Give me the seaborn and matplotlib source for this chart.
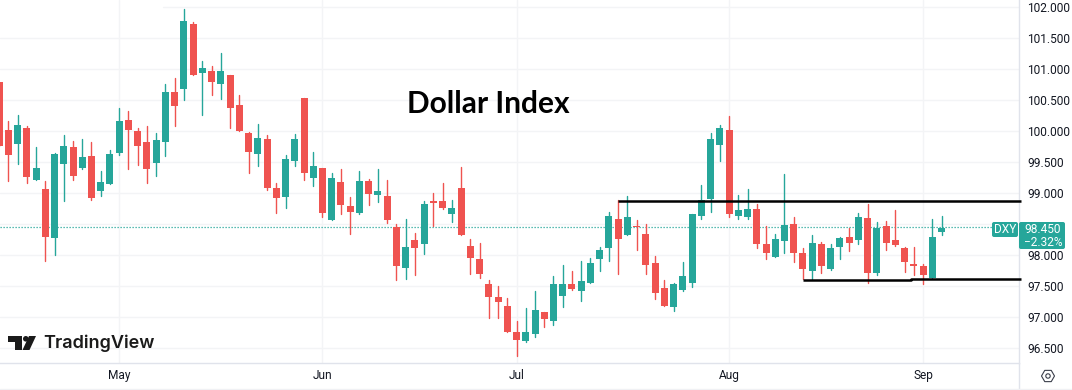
import matplotlib
matplotlib.use("Agg")
import matplotlib.pyplot as plt
from matplotlib.patches import Polygon, Circle, RegularPolygon, FancyBboxPatch
from matplotlib.lines import Line2D
from matplotlib.transforms import IdentityTransform
import numpy as np
import pandas as pd
import seaborn as sns

# daily candles
open_px = [100.79, 100.02, 99.80, 100.06, 99.22, 99.07, 98.28, 99.47, 99.75, 99.41,
           99.60, 99.03, 99.15, 99.65, 100.18, 100.01, 99.83, 99.49, 99.83, 100.63,
           100.68, 101.73, 100.94, 100.97, 100.76, 100.91, 100.42, 99.98, 99.63, 99.88,
           99.09, 98.94, 99.52, 100.54, 99.24, 99.41, 98.57, 99.18, 98.80, 98.68,
           99.20, 98.97, 98.96, 98.46, 97.79, 98.25, 98.18, 98.87, 98.88, 98.66,
           99.09, 98.15, 97.94, 97.54, 97.33, 97.18, 96.77, 96.62, 96.73, 97.09,
           96.94, 97.34, 97.54, 97.43, 97.55, 97.94, 98.12, 98.58, 98.33, 98.48,
           98.35, 97.87, 97.47, 97.17, 97.44, 97.55, 98.63, 98.91, 99.78, 100.02,
           98.64, 98.61, 98.74, 98.18, 97.97, 98.23, 98.50, 98.04, 97.74, 98.18,
           97.78, 98.13, 98.30, 98.25, 98.60, 97.71, 98.47, 98.25, 98.12, 97.86,
           97.83, 97.63, 98.38]
high_px = [100.79, 100.16, 100.27, 100.09, 99.75, 99.20, 99.65, 99.94, 99.84, 99.88,
           99.83, 99.36, 99.70, 100.37, 100.33, 100.05, 100.09, 99.97, 100.76, 100.86,
           101.97, 101.76, 101.13, 101.05, 101.26, 100.91, 100.59, 99.99, 100.12, 99.94,
           99.16, 99.62, 99.96, 100.54, 99.67, 99.41, 99.33, 99.39, 98.94, 99.36,
           99.23, 99.39, 99.22, 98.51, 98.59, 98.36, 98.87, 99.00, 99.16, 98.89,
           99.42, 98.27, 98.20, 97.60, 97.50, 97.31, 96.94, 97.15, 97.42, 97.09,
           97.67, 97.84, 97.74, 97.91, 97.96, 98.13, 98.70, 98.89, 98.95, 98.57,
           98.51, 97.99, 97.60, 97.55, 97.90, 98.67, 99.13, 99.98, 100.10, 100.25,
           98.97, 99.07, 98.83, 98.47, 98.34, 99.31, 98.62, 98.12, 98.33, 98.22,
           98.18, 98.29, 98.44, 98.69, 98.83, 98.54, 98.56, 98.73, 98.13, 98.13,
           97.86, 98.59, 98.63]
low_px = [99.77, 99.20, 99.47, 99.17, 99.22, 97.91, 98.01, 98.87, 99.22, 99.39,
          98.89, 98.95, 99.15, 99.62, 99.39, 99.46, 99.17, 99.28, 99.60, 100.09,
          100.50, 100.91, 100.26, 100.59, 100.52, 100.05, 100.01, 99.33, 99.44, 99.05,
          98.69, 98.76, 99.44, 99.22, 99.12, 98.61, 98.57, 98.67, 98.34, 98.67,
          98.81, 98.86, 98.52, 97.60, 97.62, 97.68, 98.02, 98.48, 98.75, 98.53,
          98.33, 97.70, 97.63, 96.99, 96.99, 96.77, 96.38, 96.60, 96.69, 96.85,
          96.88, 97.17, 97.44, 97.27, 97.55, 97.75, 97.91, 97.70, 98.33, 98.09,
          97.70, 97.30, 97.19, 97.10, 97.43, 97.49, 98.59, 98.70, 99.52, 98.61,
          98.59, 98.59, 98.12, 97.94, 97.97, 98.04, 97.89, 97.61, 97.62, 97.71,
          97.76, 97.94, 98.07, 98.18, 97.55, 97.68, 98.09, 98.15, 97.73, 97.68,
          97.53, 97.63, 98.33]
close_px = [99.77, 99.62, 100.10, 99.27, 99.41, 98.30, 99.63, 99.77, 99.28, 99.59,
            98.93, 99.18, 99.63, 100.17, 100.02, 99.76, 99.39, 99.86, 100.63, 100.41,
            101.78, 100.91, 101.02, 100.80, 100.97, 100.37, 100.01, 99.67, 99.89, 99.09,
            98.92, 99.55, 99.88, 99.32, 99.44, 98.69, 99.25, 98.81, 98.70, 99.20,
            98.99, 99.04, 98.57, 97.83, 98.13, 98.12, 98.82, 98.84, 98.76, 98.77,
            98.33, 97.96, 97.70, 97.33, 97.24, 96.77, 96.63, 96.77, 97.12, 96.97,
            97.53, 97.53, 97.46, 97.58, 97.87, 98.09, 98.63, 98.27, 98.61, 98.46,
            97.84, 97.39, 97.19, 97.53, 97.67, 98.67, 98.90, 99.88, 100.05, 98.67,
            98.73, 98.75, 98.19, 98.04, 98.26, 98.49, 98.04, 97.78, 98.20, 97.83,
            98.12, 98.28, 98.20, 98.62, 97.71, 98.44, 98.20, 98.17, 97.89, 97.83,
            97.68, 98.30, 98.44]

month_pos = [13, 35, 56, 79, 100]
month_labels = ["May", "Jun", "Jul", "Aug", "Sep"]
price_ticks = [96.5, 97.0, 97.5, 98.0, 98.5, 99.0, 99.5, 100.0, 100.5, 101.0, 101.5, 102.0]

last_price = 98.45
resistance_x = [67, 110.6]
resistance_y = [98.88, 98.88]
support_x = [87, 98.7, 98.7, 110.6]
support_y = [97.595, 97.595, 97.61, 97.61]

GREEN = "#26a69a"
RED = "#ef5350"
TEXT = "#131722"
GRID = "#f3f4f6"
BORDER = "#e0e3eb"

W, H = 1072, 390

sns.set_style("white")
plt.rcParams["font.family"] = ["Roboto", "DejaVu Sans"]

df = pd.DataFrame({"i": np.arange(len(open_px)), "o": open_px, "h": high_px,
                   "l": low_px, "c": close_px})
df["up"] = df["c"] >= df["o"]
df["top"] = df[["o", "c"]].max(axis=1)
df["bot"] = df[["o", "c"]].min(axis=1)

fig = plt.figure(figsize=(W / 100, H / 100), dpi=100, facecolor="white")
ax = fig.add_axes([0, (H - 363) / H, 1019 / W, 363 / H])

# wicks, one line per candle
wicks = df.melt(id_vars=["i", "up"], value_vars=["h", "l"], value_name="price")
wicks = wicks.sort_values(["i", "variable"])
sns.lineplot(data=wicks[wicks["up"]], x="i", y="price", units="i", estimator=None,
             color=GREEN, lw=1.0, ax=ax, zorder=3, legend=False)
sns.lineplot(data=wicks[~wicks["up"]], x="i", y="price", units="i", estimator=None,
             color=RED, lw=1.0, ax=ax, zorder=3, legend=False)

# bodies
for up, col in [(True, GREEN), (False, RED)]:
    part = df[df["up"] == up]
    sns.barplot(x=part["i"].values, y=(part["top"] - part["bot"]).values,
                bottom=part["bot"].values, native_scale=True, errorbar=None,
                color=col, saturation=1, width=0.76, linewidth=0, ax=ax, zorder=4)

ax.set_xlim(0.0974, 110.38)
ax.set_ylim(96.263, 102.118)
ax.set_xlabel("")
ax.set_ylabel("")

ax.yaxis.tick_right()
ax.set_yticks(price_ticks)
# 98.500 sits under the price tag
ax.set_yticklabels(["" if p == 98.5 else f"{p:.3f}" for p in price_ticks])
ax.set_xticks(month_pos)
ax.set_xticklabels(month_labels)
ax.tick_params(axis="both", length=0, labelsize=8.6, labelcolor=TEXT)
ax.tick_params(axis="y", pad=6)
ax.tick_params(axis="x", pad=4.5)
ax.grid(True, color=GRID, lw=1)
ax.set_axisbelow(True)
# top grid line only starts further right in the reference
ax.yaxis.get_gridlines()[-1].set_visible(False)
ax.axhline(102.0, xmin=163 / 1019, color=GRID, lw=1, zorder=0.5)
for side in ["top", "left"]:
    ax.spines[side].set_visible(False)
for side in ["right", "bottom"]:
    ax.spines[side].set_color(BORDER)
    ax.spines[side].set_linewidth(1)

# current price line
ax.axhline(last_price, color=GREEN, lw=0.9, ls=(0, (1, 1.4)), zorder=2, xmax=992 / 1019)

# drawn levels
ax.plot(resistance_x, resistance_y, color="black", lw=1.8, clip_on=False, zorder=6,
        solid_capstyle="butt")
ax.plot(support_x, support_y, color="black", lw=1.8, clip_on=False, zorder=6,
        solid_capstyle="butt")


def px(x, y):
    return x / W, 1 - y / H


fig.text(*px(488, 104), "Dollar Index", family="Lato", weight="bold", fontsize=21.5,
         color="black", ha="center", va="center")

identity = IdentityTransform()

# labels on the price scale
for x0, y0, x1, y1 in [(992, 222, 1018, 237), (1019, 222, 1065, 249)]:
    fig.add_artist(FancyBboxPatch((x0, H - y1), x1 - x0, y1 - y0,
                                  boxstyle="round,pad=0,rounding_size=2",
                                  fc=GREEN, ec="none", transform=identity, zorder=5))
for x, y, s in [(1005, 229.5, "DXY"), (1043, 229.5, "98.450"), (1043, 242, "\u22122.32%")]:
    fig.text(*px(x, y), s, color="white", fontsize=8.6, ha="center", va="center", zorder=6)

# bottom strip
fig.add_artist(Line2D([1019 / W, 1019 / W], [1 - 389 / H, 1 - 363 / H], color=BORDER, lw=1))
fig.add_artist(Line2D([0, 1], [1 - 389 / H, 1 - 389 / H], color="#f0f1f4", lw=1))

# settings icon
fig.add_artist(RegularPolygon((1048, H - 376), 6, radius=6.5, orientation=np.pi / 2, fc="none",
                              ec="#3a3e4a", lw=0.8, transform=identity))
fig.add_artist(Circle((1048, H - 376), 2.2, fc="none", ec="#3a3e4a", lw=0.8, transform=identity))

# TradingView logo
for pts in [[(8, 336), (22, 336), (22, 350), (15, 350), (15, 342), (8, 342)],
            [(36, 336), (29.5, 350), (22.5, 350), (29, 336)]]:
    fig.add_artist(Polygon([(a, H - b) for a, b in pts], fc="#1a1a1a", ec="none", transform=identity))
fig.add_artist(Circle((25.8, H - 338.8), 2.8, fc="#1a1a1a", ec="none", transform=identity))
fig.text(*px(43, 343.5), "TradingView", family="Inter", weight="semibold", fontsize=13,
         color="#1a1a1a", ha="left", va="center")

fig.savefig("out.png", dpi=100)
